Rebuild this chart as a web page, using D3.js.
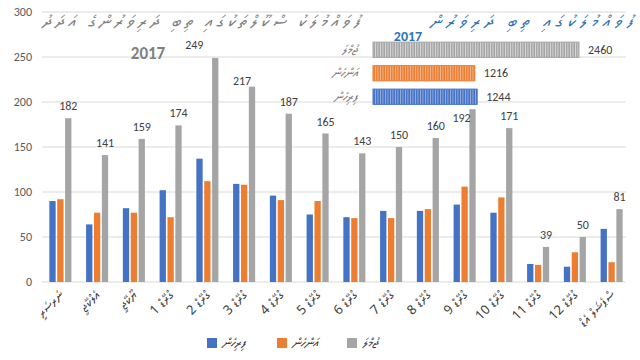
<!DOCTYPE html>
<html>
<head>
<meta charset="utf-8">
<script src="https://cdn.jsdelivr.net/npm/d3@7/dist/d3.min.js"></script>
<style>
  html, body { margin: 0; padding: 0; background: #fff; }
  svg { display: block; }
  text { font-family: Calibri, Carlito, "Liberation Sans", "DejaVu Sans", sans-serif; }
  .thaana { font-family: Faruma, "MV Boli", "Noto Sans Thaana", "DejaVu Sans", sans-serif; }
</style>
</head>
<body>
<svg id="chart" width="640" height="360"></svg>
<script>
// ---- data ----
const categories = ["ނަރސަރީ", "އެލްކޭޖީ", "ޔޫކޭޖީ",
  "1 ގްރޭޑް", "2 ގްރޭޑް", "3 ގްރޭޑް", "4 ގްރޭޑް", "5 ގްރޭޑް", "6 ގްރޭޑް",
  "7 ގްރޭޑް", "8 ގްރޭޑް", "9 ގްރޭޑް", "10 ގްރޭޑް", "11 ގްރޭޑް", "12 ގްރޭޑް",
  "ސްޕެޝަލް އެޑް"];
const seriesNames = ["ފިރިހެން", "އަންހެން", "ޖުމްލަ"];
const male   = [90, 64, 82, 102, 137, 109, 96, 75, 72, 79, 79, 86, 77, 20, 17, 59];
const female = [92, 77, 77, 72, 112, 108, 91, 90, 71, 71, 81, 106, 94, 19, 33, 22];
const total  = [182, 141, 159, 174, 249, 217, 187, 165, 143, 150, 160, 192, 171, 39, 50, 81];
const yTicks = [0, 50, 100, 150, 200, 250, 300];
const insetNames = ["ޖުމްލަ", "އަންހެން", "ފިރިހެން"];
const insetValues = [2460, 1216, 1244];
const mainTitle = "ފުވައްމުލަކު ސްކޫލްތަކުގައި ތިބި ދަރިވަރުންގެ އަދަދު";
const mainYear = "2017";
const insetTitle = "ފުވައްމުލަކުގައި ތިބި ދަރިވަރުން";
const insetYear = "2017";

const colors = { "ފިރިހެން": "#4472C4", "އަންހެން": "#ED7D31", "ޖުމްލަ": "#A5A5A5" };
const seriesData = { "ފިރިހެން": male, "އަންހެން": female, "ޖުމްލަ": total };

const svg = d3.select("#chart");

// ---- scales ----
const x = d3.scaleBand().domain(categories).range([42, 630]).paddingInner(0.4).paddingOuter(0.2);
const xs = d3.scaleBand().domain(seriesNames).range([0, x.bandwidth()]).paddingInner(0.2);
const y = d3.scaleLinear().domain([0, 300]).range([282, 12]);

// inset scales
const xi = d3.scaleLinear().domain([0, 2460]).range([373, 579]);
const yi = d3.scaleBand().domain(insetNames).range([38, 108.5]).paddingInner(0.35).paddingOuter(0.175);

// gridlines
svg.append("g").selectAll("line").data(yTicks).join("line")
  .attr("x1", 42).attr("x2", 626)
  .attr("y1", d => y(d)).attr("y2", d => y(d))
  .attr("stroke", "#D9D9D9").attr("stroke-width", 1);

// y axis
const yAxis = d3.axisLeft(y).tickValues(yTicks).tickSize(0).tickPadding(10);
const yg = svg.append("g").attr("transform", "translate(42,0)").call(yAxis);
yg.select(".domain").remove();
yg.selectAll("text").attr("fill", "#595959").style("font-size", "12px");

// bars
const groups = svg.append("g").selectAll("g").data(categories).join("g")
  .attr("transform", d => `translate(${x(d)},0)`);
groups.selectAll("rect").data((d, i) => seriesNames.map(s => ({ s, v: seriesData[s][i] })))
  .join("rect")
  .attr("x", d => xs(d.s)).attr("width", xs.bandwidth())
  .attr("y", d => y(d.v)).attr("height", d => y(0) - y(d.v))
  .attr("fill", d => colors[d.s]);

// total labels (avoid overlapping the inset chart / top edge)
const insetRight = xi(d3.max(insetValues.slice(1))) + 10;
function labelPos(d, i) {
  const cx = x(categories[i]) + xs("ޖުމްލަ") + xs.bandwidth() / 2;
  const top = y(d);
  if (d > 240) return [cx - 21, top - 9];
  const ly = top - 8;
  if (cx + 10 > xi(0) && cx - 10 < insetRight && ly - 10 < yi.range()[1]) return [cx - 11, top + 13];
  if (d > 210) return [cx - 10, top - 2];
  return [cx, ly];
}
svg.append("g").selectAll("text").data(total).join("text")
  .attr("x", (d, i) => labelPos(d, i)[0])
  .attr("y", (d, i) => labelPos(d, i)[1])
  .attr("text-anchor", "middle")
  .attr("fill", "#404040").style("font-size", "12px")
  .text(d => d);

// x axis labels (rotated)
svg.append("g").selectAll("text").data(categories).join("text")
  .attr("class", "thaana")
  .attr("transform", d => `translate(${x(d) + x.bandwidth() / 2 + 4},${296}) rotate(-45)`)
  .attr("text-anchor", "end")
  .attr("fill", "#404040").style("font-size", "13px")
  .text(d => d);

// titles
svg.append("text").attr("class", "thaana")
  .attr("x", 42).attr("y", 27)
  .attr("textLength", 318).attr("lengthAdjust", "spacing")
  .attr("fill", "#808080").style("font-size", "17px").style("font-style", "italic")
  .text(mainTitle);
svg.append("text")
  .attr("x", 148).attr("y", 59).attr("text-anchor", "middle")
  .attr("fill", "#808080").style("font-size", "17px").style("font-weight", "bold")
  .text(mainYear);
svg.append("text").attr("class", "thaana")
  .attr("x", 430).attr("y", 27)
  .attr("textLength", 203).attr("lengthAdjust", "spacing")
  .attr("fill", "#2E75B6").style("font-size", "17px").style("font-style", "italic")
  .text(insetTitle);
svg.append("text")
  .attr("x", 408).attr("y", 41).attr("text-anchor", "middle")
  .attr("fill", "#2E75B6").style("font-size", "14px").style("font-weight", "bold")
  .text(insetYear);

// inset horizontal bar chart with striped fills
const defs = svg.append("defs");
const insetColors = ["#A5A5A5", "#ED7D31", "#4472C4"];
insetColors.forEach((c, i) => {
  const p = defs.append("pattern").attr("id", "stripe" + i)
    .attr("patternUnits", "userSpaceOnUse").attr("width", 2.5).attr("height", 4);
  p.append("rect").attr("width", 2.5).attr("height", 4).attr("fill", c);
  p.append("rect").attr("width", 0.9).attr("height", 4).attr("fill", "#fff").attr("opacity", i === 0 ? 0.6 : 0.45);
});
const inset = svg.append("g");
inset.selectAll("rect").data(insetNames).join("rect")
  .attr("x", xi(0)).attr("y", d => yi(d))
  .attr("width", (d, i) => xi(insetValues[i]) - xi(0)).attr("height", yi.bandwidth())
  .attr("fill", (d, i) => `url(#stripe${i})`)
  .attr("stroke", (d, i) => insetColors[i]).attr("stroke-width", 1);
inset.selectAll("text.val").data(insetNames).join("text").attr("class", "val")
  .attr("x", (d, i) => xi(insetValues[i]) + 9).attr("y", d => yi(d) + yi.bandwidth() / 2 + 4)
  .attr("fill", "#404040").style("font-size", "12px")
  .text((d, i) => insetValues[i]);
inset.selectAll("text.cat").data(insetNames).join("text").attr("class", "cat thaana")
  .attr("x", 358).attr("y", d => yi(d) + yi.bandwidth() / 2 + 4)
  .attr("text-anchor", "end").attr("fill", "#808080")
  .style("font-size", "13px").style("font-style", "italic")
  .text(d => d);

// legend
const legendX = { "ފިރިހެން": 207, "އަންހެން": 277, "ޖުމްލަ": 347 };
const lg = svg.append("g").selectAll("g").data(seriesNames).join("g")
  .attr("transform", d => `translate(${legendX[d]},338)`);
lg.append("rect").attr("width", 10).attr("height", 10).attr("fill", d => colors[d]);
lg.append("text").attr("class", "thaana").attr("x", 15).attr("y", 9)
  .attr("fill", "#404040").style("font-size", "13px").style("font-style", "italic")
  .text(d => d);
</script>
</body>
</html>
